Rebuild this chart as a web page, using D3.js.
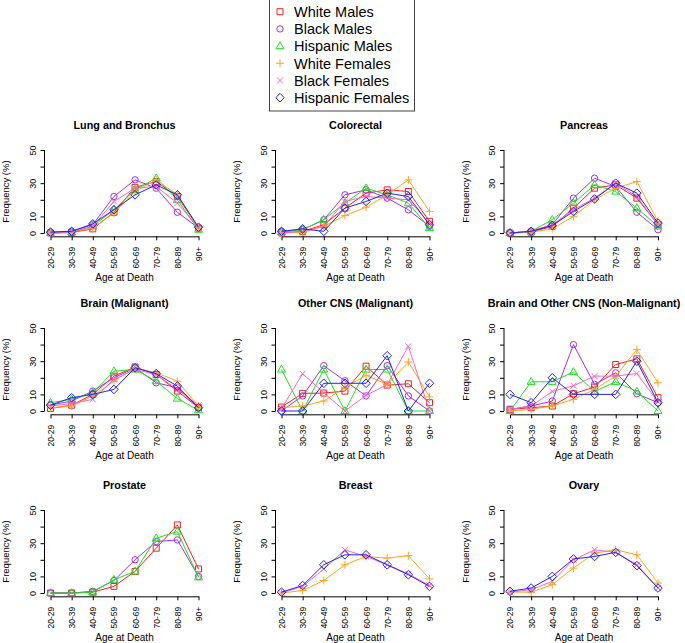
<!DOCTYPE html>
<html>
<head>
<meta charset="utf-8">
<script src="https://cdn.jsdelivr.net/npm/d3@7"></script>
<style>
body { margin: 0; background: #fff; }
text { font-family: "Liberation Sans", Arial, sans-serif; fill: #000; }
</style>
</head>
<body>
<div id="chart"></div>
<script>
const ages = ["20-29", "30-39", "40-49", "50-59", "60-69", "70-79", "80-89", "90+"];
const groups = ["White Males", "Black Males", "Hispanic Males", "White Females", "Black Females", "Hispanic Females"];
const yTickLabels = [0, 10, 30, 50];

// frequency (%) by age group, one row per group (null = not applicable)
const lungBronchus = [
    [0, 0.3, 2.5, 12.5, 27.5, 31, 22, 3],
    [0.5, 1, 5, 22, 32, 27, 12.5, 3],
    [0, 0.5, 4, 14, 26, 33, 20, 2],
    [0, 0.5, 3, 12, 25, 32, 23, 3],
    [0, 0.5, 4, 19, 27, 28, 18, 3],
    [0.5, 1, 5.5, 14, 23, 29, 23, 3.5]
];
const colorectal = [
    [0, 1, 5, 15, 24, 26, 25, 7],
    [1, 2, 8, 23, 26, 21, 14, 4],
    [0.5, 2, 8, 18, 27, 23, 18, 3],
    [0, 0.5, 4, 10.5, 15.5, 23, 32, 13],
    [0, 1, 4, 19, 22, 21, 20, 6],
    [1, 2.5, 1, 15, 19, 24, 22, 5]
];
const pancreas = [
    [0, 0.5, 4, 15, 27, 29, 21, 5],
    [0, 1, 5, 21, 33, 28, 12.5, 2],
    [0, 1, 8, 18, 29, 25, 15, 4],
    [0, 0.5, 2.5, 10, 20, 27, 31, 7],
    [0, 1, 5, 14, 21, 30, 22, 5],
    [0, 1, 4.5, 13, 20.5, 30, 24, 6]
];
const brainMalignant = [
    [1.5, 3.5, 10, 21, 26.5, 22, 12, 2],
    [3.5, 6, 12, 20, 26, 17, 14, 2],
    [5, 7, 11, 24, 25, 18, 7.5, 0.5],
    [2, 3, 9, 18, 26, 23, 18, 3],
    [3, 4.5, 7, 19, 25, 22, 13, 3.5],
    [3.5, 8, 10, 13, 26, 22.5, 15, 2]
];
const otherCnsMalignant = [
    [2.4, 10.6, 10.8, 12, 27, 15.6, 16.4, 5],
    [0, 9.1, 27.3, 18.2, 9.1, 27.3, 9.1, 0],
    [25, 0, 25, 0, 25, 25, 0, 0],
    [2, 3, 6, 14, 21.5, 16, 29.5, 8.5],
    [1.5, 22.4, 11, 0, 9.4, 16, 39, 0],
    [0, 0, 16.7, 16.7, 16.7, 33.3, 0, 16.7]
];
const brainCnsNonMalignant = [
    [1, 2, 3, 10.4, 14.4, 28, 31.4, 8],
    [1, 3, 6, 40, 16, 23, 10.4, 5],
    [0, 17.6, 17.6, 23.5, 11.8, 17.6, 11.8, 0],
    [0, 1, 3, 7, 13, 21, 37, 17],
    [1, 3, 11.8, 15.2, 21, 21, 22.6, 5.5],
    [10, 5, 20, 10, 10, 10, 30, 5]
];
const prostate = [
    [0, 0, 0.5, 4, 13, 27, 41, 14.5],
    [0, 0, 1, 7.5, 20, 31, 32, 10],
    [0, 0, 0.5, 8, 13, 33, 37, 9.5],
    null, null, null
];
const breast = [
    null, null, null,
    [0, 1.5, 7.5, 17, 22, 21, 22.5, 8.5],
    [0, 4, 14.5, 26, 22, 17, 11.5, 4.5],
    [0.5, 4.5, 17, 23, 23, 17, 11, 4]
];
const ovary = [
    null, null, null,
    [0.5, 0.5, 5, 15, 24, 26, 23, 6],
    [0.5, 2, 7, 20, 26, 24.5, 17, 3],
    [1, 3, 10, 20.5, 22, 24.5, 16.5, 3]
];

const panels = [
    {title: "Lung and Bronchus", values: lungBronchus},
    {title: "Colorectal", values: colorectal},
    {title: "Pancreas", values: pancreas},
    {title: "Brain (Malignant)", values: brainMalignant},
    {title: "Other CNS (Malignant)", values: otherCnsMalignant},
    {title: "Brain and Other CNS (Non-Malignant)", values: brainCnsNonMalignant},
    {title: "Prostate", values: prostate},
    {title: "Breast", values: breast},
    {title: "Ovary", values: ovary}
];

const colors = ["#ee2222", "#a030ee", "#22dd22", "#ffa520", "#ff66bb", "#2222ee"];
const shapes = ["square", "circle", "triangle", "plus", "cross", "diamond"];

function markerPath(shape) {
    switch (shape) {
        case "square": return "M-3,-3H3V3H-3Z";
        case "circle": return "M3.2,0A3.2,3.2 0 1,1 -3.2,0A3.2,3.2 0 1,1 3.2,0Z";
        case "triangle": return "M0,-4.3L4,2.6H-4Z";
        case "plus": return "M-4,0H4M0,-4V4";
        case "cross": return "M-3,-3L3,3M-3,3L3,-3";
        case "diamond": return "M0,-4.3L4.3,0L0,4.3L-4.3,0Z";
    }
}

const width = 685, height = 643;
const svg = d3.select("#chart").append("svg")
    .attr("width", width)
    .attr("height", height);

const colX = [44.5, 275.5, 504];
const rowY = [150, 328, 510];
const plotW = 160;

const x = d3.scalePoint().domain(ages).range([6, 154]);
const y = d3.scaleLinear().domain([0, 50]).range([83, 0]);
const line = d3.line()
    .defined(d => d != null)
    .x((d, i) => x(ages[i]))
    .y(d => y(d));

panels.forEach((p, i) => {
    const g = svg.append("g")
        .attr("transform", "translate(" + colX[i % 3] + "," + rowY[Math.floor(i / 3)] + ")");

    g.append("text")
        .attr("x", plotW / 2)
        .attr("y", -21)
        .attr("text-anchor", "middle")
        .style("font-weight", "bold")
        .style("font-size", "10.8px")
        .text(p.title);

    // y axis
    const yAxis = g.append("g")
        .call(d3.axisLeft(y).tickValues(d3.range(0, 51, 10)).tickSize(4).tickSizeOuter(0).tickFormat(""));
    yAxis.select(".domain").attr("d", "M0," + y(0) + "V" + y(50));
    yAxis.selectAll("line, .domain").attr("stroke", "#000");
    yAxis.selectAll(".tick").filter(d => yTickLabels.includes(d))
        .append("text")
        .attr("transform", "rotate(-90)")
        .attr("x", 0)
        .attr("y", -9)
        .attr("text-anchor", "middle")
        .style("font-size", "9px")
        .text(d => d);

    // x axis
    const xAxis = g.append("g")
        .attr("transform", "translate(0," + y(-2) + ")")
        .call(d3.axisBottom(x).tickSize(4).tickSizeOuter(0));
    xAxis.selectAll("line, .domain").attr("stroke", "#000");
    xAxis.selectAll("text")
        .attr("transform", "rotate(-90)")
        .attr("x", -10.4)
        .attr("y", 0)
        .attr("dy", "0.35em")
        .attr("text-anchor", "end")
        .attr("fill", "#000")
        .style("font-size", "8.5px")
        .style("font-family", "'Liberation Sans', Arial, sans-serif");

    g.append("text")
        .attr("transform", "rotate(-90)")
        .attr("x", -(y(-2) + y(52)) / 2)
        .attr("y", -35.5)
        .attr("text-anchor", "middle")
        .style("font-size", "9.5px")
        .text("Frequency (%)");

    g.append("text")
        .attr("x", plotW / 2)
        .attr("y", 130.5)
        .attr("text-anchor", "middle")
        .style("font-size", "10px")
        .text("Age at Death");

    p.values.forEach((vals, s) => {
        if (!vals) return;
        g.append("path")
            .datum(vals)
            .attr("d", line)
            .attr("fill", "none")
            .attr("stroke", colors[s])
            .attr("stroke-width", 1);
        g.selectAll(".m" + s)
            .data(vals)
            .enter()
            .append("path")
            .attr("transform", (d, k) => "translate(" + x(ages[k]) + "," + y(d) + ")")
            .attr("d", markerPath(shapes[s]))
            .attr("fill", "none")
            .attr("stroke", colors[s])
            .attr("stroke-width", 1);
    });
});

// legend
const legend = svg.append("g");
legend.append("rect")
    .attr("x", 269.5)
    .attr("y", -1)
    .attr("width", 145)
    .attr("height", 112)
    .attr("fill", "#fff")
    .attr("stroke", "#444");
groups.forEach((name, s) => {
    const cy = 11.7 + 17.2 * s;
    legend.append("path")
        .attr("transform", "translate(280," + cy + ")")
        .attr("d", markerPath(shapes[s]))
        .attr("fill", "none")
        .attr("stroke", colors[s]);
    legend.append("text")
        .attr("x", 294)
        .attr("y", cy)
        .attr("dy", "0.36em")
        .style("font-size", "14.5px")
        .text(name);
});
</script>
</body>
</html>
